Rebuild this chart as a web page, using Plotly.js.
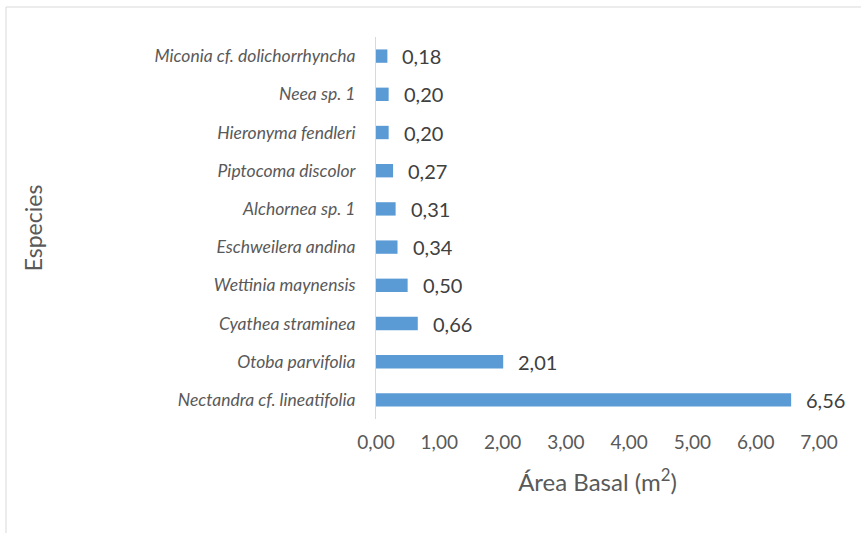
<!DOCTYPE html>
<html>
<head>
<meta charset="utf-8">
<script src="https://cdn.plot.ly/plotly-3.0.1.min.js"></script>
<style>
html,body{margin:0;padding:0;background:#fff;}
#chart{width:861px;height:533px;}
</style>
</head>
<body>
<div id="chart"></div>
<script>
const species = [
  "Nectandra cf. lineatifolia",
  "Otoba parvifolia",
  "Cyathea straminea",
  "Wettinia maynensis",
  "Eschweilera andina",
  "Alchornea sp. 1",
  "Piptocoma discolor",
  "Hieronyma fendleri",
  "Neea sp. 1",
  "Miconia cf. dolichorrhyncha"
];
const areaBasal = [6.56, 2.01, 0.66, 0.50, 0.34, 0.31, 0.27, 0.20, 0.20, 0.18];
const xTickVals = [0, 1, 2, 3, 4, 5, 6, 7];
const xTickText = ["0,00", "1,00", "2,00", "3,00", "4,00", "5,00", "6,00", "7,00"];

const fontFam = "Lato, 'Open Sans', sans-serif";
const W = 861, H = 533;
const L = 376, R = 42, T = 37, B = 114;
const pw = W - L - R, ph = H - T - B;

const trace = {
  type: 'bar',
  orientation: 'h',
  y: species,
  x: areaBasal,
  marker: {color: '#5B9BD5'},
  hoverinfo: 'none'
};

const annotations = areaBasal.map((v, i) => ({
  x: v, y: species[i], xref: 'x', yref: 'y',
  text: v.toFixed(2).replace('.', ','),
  showarrow: false, xanchor: 'left', yanchor: 'middle',
  xshift: 13, yshift: 0,
  font: {family: fontFam, size: 20, color: '#404040'}
}));

const layout = {
  width: W, height: H,
  margin: {l: L, r: R, t: T, b: B, pad: 0},
  paper_bgcolor: '#fff',
  plot_bgcolor: '#fff',
  bargap: 0.65,
  showlegend: false,
  annotations: annotations,
  xaxis: {
    range: [0, 7],
    tickvals: xTickVals,
    ticktext: xTickText,
    showgrid: false,
    zeroline: false,
    showline: false,
    ticks: '',
    tickfont: {family: fontFam, size: 19, color: '#595959'},
    ticklabelstandoff: 10,
    title: {text: 'Área Basal (m<sup>2</sup>)', font: {family: fontFam, size: 24, color: '#595959'}, standoff: 22}
  },
  yaxis: {
    type: 'category',
    categoryorder: 'array',
    categoryarray: species,
    showgrid: false,
    zeroline: false,
    showline: true,
    linecolor: '#d9d9d9',
    linewidth: 1,
    ticks: '',
    tickfont: {family: fontFam, size: 17.5, color: '#595959', style: 'italic'},
    ticklabelstandoff: 16,
    title: {text: 'Especies', font: {family: fontFam, size: 23, color: '#595959'}, standoff: 105}
  },
  shapes: [{
    type: 'rect', xref: 'paper', yref: 'paper',
    x0: (6 - L) / pw, x1: (W + 20 - L) / pw,
    y0: -(H + 20 - T - ph) / ph, y1: 1 + (T - 7) / ph,
    line: {color: '#d9d9d9', width: 1},
    fillcolor: 'rgba(0,0,0,0)',
    layer: 'below'
  }]
};

Plotly.newPlot('chart', [trace], layout, {displayModeBar: false, staticPlot: true});
</script>
</body>
</html>
